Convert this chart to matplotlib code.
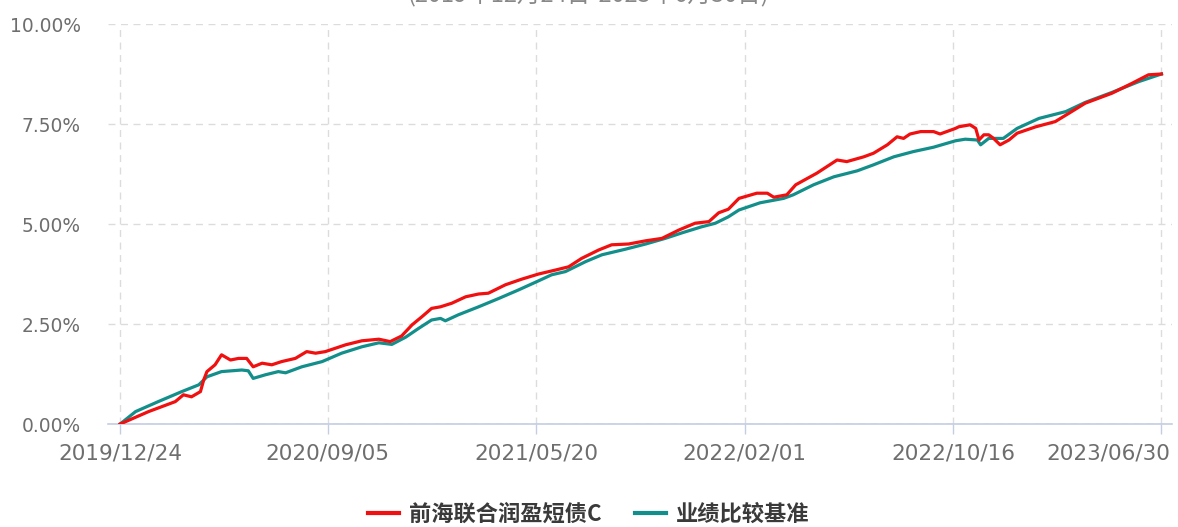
import numpy as np
import pandas as pd
import matplotlib
matplotlib.use('Agg')
from matplotlib import pyplot as plt
import matplotlib.transforms as mtransforms
from matplotlib.lines import Line2D

plt.rcParams['font.family'] = ['DejaVu Sans', 'Noto Sans CJK SC']

# fund cumulative return (%)
fund_dates = ['2019-12-24', '2020-01-28', '2020-03-01', '2020-03-11', '2020-03-21', '2020-04-01',
              '2020-04-05', '2020-04-09', '2020-04-19', '2020-04-27', '2020-05-08', '2020-05-18',
              '2020-05-28', '2020-06-05', '2020-06-16', '2020-06-28', '2020-07-10', '2020-07-27',
              '2020-08-10', '2020-08-21', '2020-09-02', '2020-09-27', '2020-10-17', '2020-11-07',
              '2020-11-21', '2020-12-05', '2020-12-18', '2020-12-30', '2021-01-11', '2021-01-22',
              '2021-02-05', '2021-02-22', '2021-03-10', '2021-03-22', '2021-04-12', '2021-05-02',
              '2021-05-23', '2021-06-13', '2021-06-29', '2021-07-15', '2021-08-05', '2021-08-21',
              '2021-09-11', '2021-10-02', '2021-10-22', '2021-11-12', '2021-12-02', '2021-12-19',
              '2021-12-31', '2022-01-12', '2022-01-25', '2022-02-16', '2022-03-01', '2022-03-09',
              '2022-03-25', '2022-04-05', '2022-05-01', '2022-05-26', '2022-06-07', '2022-06-28',
              '2022-07-10', '2022-07-27', '2022-08-08', '2022-08-16', '2022-08-24', '2022-09-06',
              '2022-09-22', '2022-09-30', '2022-10-19', '2022-10-23', '2022-11-06', '2022-11-13',
              '2022-11-17', '2022-11-23', '2022-11-29', '2022-12-05', '2022-12-13', '2022-12-24',
              '2023-01-03', '2023-01-26', '2023-02-19', '2023-03-08', '2023-03-28', '2023-04-30',
              '2023-05-25', '2023-06-14', '2023-06-30']
fund_vals = [0.00, 0.31, 0.56, 0.73, 0.68, 0.81,
             1.10, 1.31, 1.48, 1.73, 1.60, 1.64,
             1.64, 1.43, 1.52, 1.48, 1.56, 1.64,
             1.81, 1.77, 1.81, 1.98, 2.08, 2.12,
             2.06, 2.20, 2.48, 2.68, 2.89, 2.93,
             3.02, 3.18, 3.25, 3.27, 3.48, 3.62,
             3.75, 3.85, 3.93, 4.14, 4.35, 4.48,
             4.50, 4.58, 4.64, 4.85, 5.02, 5.06,
             5.28, 5.37, 5.64, 5.77, 5.77, 5.67,
             5.73, 5.98, 6.27, 6.60, 6.56, 6.68,
             6.77, 6.98, 7.18, 7.14, 7.25, 7.31,
             7.31, 7.25, 7.39, 7.43, 7.48, 7.39,
             7.10, 7.23, 7.23, 7.14, 6.98, 7.10,
             7.27, 7.43, 7.56, 7.77, 8.02, 8.27,
             8.52, 8.73, 8.75]

# benchmark cumulative return (%)
bench_dates = ['2019-12-24', '2020-01-12', '2020-02-09', '2020-03-09', '2020-03-30', '2020-04-09',
               '2020-04-27', '2020-05-22', '2020-05-30', '2020-06-05', '2020-06-20', '2020-07-06',
               '2020-07-15', '2020-08-04', '2020-08-29', '2020-09-22', '2020-10-17', '2020-11-07',
               '2020-11-23', '2020-12-10', '2020-12-26', '2021-01-11', '2021-01-22', '2021-01-28',
               '2021-02-13', '2021-03-10', '2021-04-04', '2021-04-28', '2021-05-23', '2021-06-08',
               '2021-06-25', '2021-07-20', '2021-08-09', '2021-09-07', '2021-10-02', '2021-10-26',
               '2021-11-16', '2021-12-10', '2021-12-27', '2022-01-12', '2022-01-25', '2022-02-20',
               '2022-03-21', '2022-04-02', '2022-04-27', '2022-05-22', '2022-06-20', '2022-07-10',
               '2022-08-04', '2022-08-28', '2022-09-22', '2022-10-19', '2022-10-31', '2022-11-15',
               '2022-11-19', '2022-11-29', '2022-12-17', '2023-01-03', '2023-01-30', '2023-03-04',
               '2023-03-28', '2023-04-30', '2023-06-02', '2023-06-30']
bench_vals = [0.00, 0.31, 0.56, 0.81, 0.98, 1.18,
              1.31, 1.35, 1.33, 1.14, 1.23, 1.31,
              1.28, 1.43, 1.56, 1.77, 1.93, 2.03,
              1.99, 2.17, 2.39, 2.60, 2.64, 2.58,
              2.73, 2.93, 3.14, 3.35, 3.58, 3.73,
              3.81, 4.06, 4.23, 4.37, 4.50, 4.64,
              4.78, 4.93, 5.02, 5.18, 5.35, 5.53,
              5.64, 5.73, 5.98, 6.18, 6.33, 6.48,
              6.68, 6.81, 6.92, 7.08, 7.12, 7.10,
              6.98, 7.14, 7.14, 7.39, 7.64, 7.81,
              8.04, 8.29, 8.56, 8.75]

tick_dates = ['2019-12-24', '2020-09-05', '2021-05-20', '2022-02-01', '2022-10-16', '2023-06-30']
y_ticks = [0, 2.5, 5, 7.5, 10]
fund_name = '前海联合润盈短债C'
bench_name = '业绩比较基准'
title = '(2019年12月24日-2023年6月30日)'

red = '#f01010'
teal = '#138f8b'
grid_c = '#dcdcdc'
axis_c = '#c3cde3'
txt_c = '#6e6e6e'

fd = pd.to_datetime(fund_dates)
bd = pd.to_datetime(bench_dates)
td = pd.to_datetime(tick_dates)

fig = plt.figure(figsize=(11.78, 5.27), dpi=100)
ax = fig.add_axes([108 / 1178, 103 / 527, 1064 / 1178, 400 / 527])

ax.plot(bd, bench_vals, color=teal, lw=2.3, solid_joinstyle='round', zorder=3)
ax.plot(fd, fund_vals, color=red, lw=2.3, solid_joinstyle='round', zorder=4)

ax.set_xlim(td[0] - pd.Timedelta(days=15), td[-1] + pd.Timedelta(days=13))
ax.set_ylim(0, 10)

ax.set_xticks(td)
ax.set_xticklabels([d.strftime('%Y/%m/%d') for d in td])
ax.set_yticks(y_ticks)
ax.set_yticklabels(['%.2f%%' % v for v in y_ticks])

for s in ['top', 'right', 'left']:
    ax.spines[s].set_visible(False)
ax.spines['bottom'].set_color(axis_c)
ax.spines['bottom'].set_linewidth(1.2)

ax.grid(True, axis='y', color=grid_c, ls=(0, (5, 4)), lw=1.0)
for d in td:
    ax.axvline(d, color=grid_c, ls=(0, (5, 4)), lw=1.0, zorder=1)

ax.tick_params(axis='x', length=7, width=1.0, color=axis_c, labelsize=15.5, labelcolor=txt_c, pad=7)
ax.tick_params(axis='y', length=0, labelsize=13.4, labelcolor=txt_c, pad=19.5)

# keep the last date label inside the figure, as the original does
last = ax.get_xticklabels()[-1]
last.set_ha('right')
last.set_transform(last.get_transform() + mtransforms.ScaledTranslation(9 / 100, 0, fig.dpi_scale_trans))

fig.text(0.5, 1 - 2 / 527, title, ha='center', va='baseline', fontsize=17, color='#888888',
         family=['Noto Sans CJK SC', 'DejaVu Sans'])

handles = [Line2D([], [], color=red, lw=3), Line2D([], [], color=teal, lw=3)]
fig.legend(handles, [fund_name, bench_name], loc='center', bbox_to_anchor=(0.5, 13 / 527),
           ncol=2, frameon=False, handlelength=1.4, columnspacing=1.5, handletextpad=0.45,
           borderpad=0.1, prop={'family': ['Noto Sans CJK SC', 'DejaVu Sans'], 'size': 16, 'weight': 'bold'},
           labelcolor='#3a3a3a')

fig.savefig('out.png', dpi=100)
